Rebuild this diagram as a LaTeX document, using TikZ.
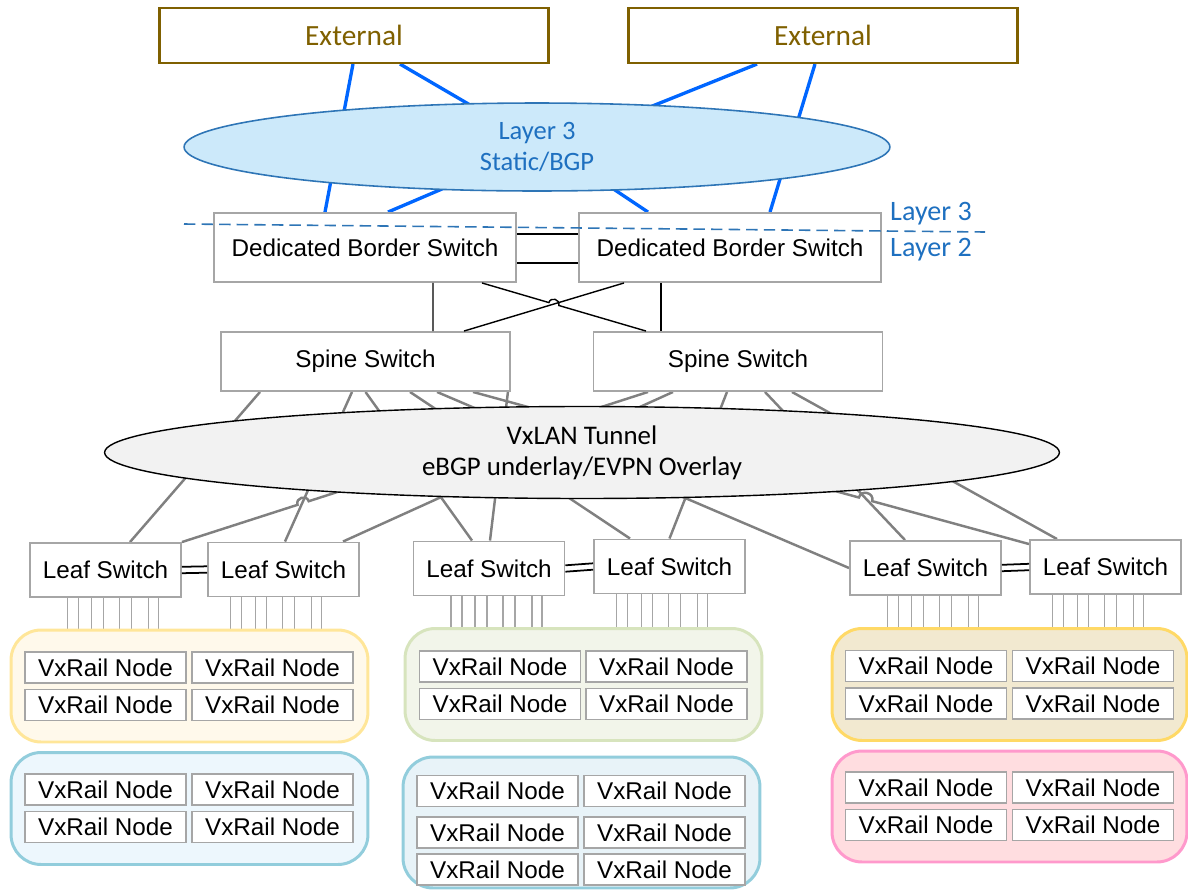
\documentclass[tikz,border=0pt]{standalone}
\usepackage{fontspec}
\setmainfont{Liberation Sans}
\newfontfamily\calibri{Carlito}
\usetikzlibrary{shapes.geometric,calc}
\pgfdeclarelayer{bg}
\pgfsetlayers{bg,main}
\definecolor{ExtClr}{RGB}{127,96,0}
\definecolor{LinkClr}{RGB}{0,102,255}
\definecolor{LayerLine}{RGB}{46,117,182}
\definecolor{LayerFill}{RGB}{204,233,250}
\definecolor{LayerTxt}{RGB}{30,112,192}
\definecolor{BoxClr}{RGB}{166,166,166}
\definecolor{WireClr}{RGB}{128,128,128}
\definecolor{TunnelFill}{RGB}{242,242,242}
\definecolor{GoneLine}{RGB}{255,230,153}
\definecolor{GoneFill}{RGB}{255,249,235}
\definecolor{GtwoLine}{RGB}{146,205,220}
\definecolor{GtwoFill}{RGB}{237,247,253}
\definecolor{GthreeLine}{RGB}{215,228,189}
\definecolor{GthreeFill}{RGB}{242,245,234}
\definecolor{GfourFill}{RGB}{232,243,248}
\definecolor{GfiveLine}{RGB}{255,217,102}
\definecolor{GfiveFill}{RGB}{242,233,208}
\definecolor{GsixLine}{RGB}{255,153,204}
\definecolor{GsixFill}{RGB}{255,221,224}

\begin{document}
\begin{tikzpicture}[x=0.02cm,y=-0.02cm,
  box/.style={draw=BoxClr,line width=1.1pt,fill=white,inner sep=0pt,font=\fontsize{13.8}{16}\selectfont},
  ext/.style={draw=ExtClr,line width=1.2pt,text=ExtClr,inner sep=0pt,minimum width=7.78cm,minimum height=1.1cm,font=\calibri\fontsize{16.7}{20}\selectfont},
  border/.style={box,minimum width=6.04cm,minimum height=1.38cm},
  spine/.style={box,minimum width=5.78cm,minimum height=1.18cm},
  leaf/.style={box,minimum width=3.02cm,minimum height=1.08cm},
  vxr/.style={box,minimum width=3.22cm,minimum height=0.62cm},
  grp/.style={rounded corners=0.6cm,line width=1.7pt,minimum width=7.14cm,minimum height=2.24cm},
  link/.style={draw=LinkClr,line width=1.9pt},
  conn/.style={draw=black,line width=0.8pt},
  pair/.style={draw=black,line width=1pt},
  wire/.style={draw=WireClr,line width=1.4pt},
  port/.style={draw=BoxClr,line width=0.6pt},
  cut/.style={draw=LayerLine,line width=0.9pt,dash pattern=on 6.5pt off 3.5pt},
  laytxt/.style={text=LayerTxt,font=\calibri\fontsize{16}{19}\selectfont}]
\useasboundingbox (0,0) rectangle (1188,890);

\node[ext] (ext1) at (354,35.5) {External};
\node[ext] (ext2) at (823,35.5) {External};

\node[ellipse,draw=LayerLine,fill=LayerFill,line width=0.9pt,inner sep=0pt,
  minimum width=14.12cm,minimum height=1.76cm,align=center,text=LayerTxt,
  font=\calibri\fontsize{15.1}{17.6}\selectfont] (l3) at (537,147) {Layer 3\\Static/BGP};

\node[border] (bs1) at (365,247.5) {Dedicated Border Switch};
\node[border] (bs2) at (730,247.5) {Dedicated Border Switch};

\node[spine] (sp1) at (365.5,361.5) {Spine Switch};
\node[spine] (sp2) at (738,361.5) {Spine Switch};

\node[ellipse,draw=black,fill=TunnelFill,line width=0.8pt,inner sep=0pt,
  minimum width=19.1cm,minimum height=1.84cm,align=center,
  font=\calibri\fontsize{15.3}{17.6}\selectfont] (vx) at (582,452.5) {VxLAN Tunnel\\eBGP underlay/EVPN Overlay};

\node[leaf] (lf1) at (105.5,570) {Leaf Switch};
\node[leaf] (lf2) at (283.5,569.5) {Leaf Switch};
\node[leaf] (lf3) at (489,568.5) {Leaf Switch};
\node[leaf] (lf4) at (669.5,566.5) {Leaf Switch};
\node[leaf] (lf5) at (925.5,568) {Leaf Switch};
\node[leaf] (lf6) at (1105.5,567) {Leaf Switch};

\node[grp,draw=GoneLine,fill=GoneFill] (g1) at (189.5,686) {};
\node[grp,draw=GtwoLine,fill=GtwoFill] (g2) at (189.5,808.5) {};
\node[grp,draw=GthreeLine,fill=GthreeFill] (g3) at (583.5,684.5) {};
\node[grp,draw=GtwoLine,fill=GfourFill,minimum height=2.62cm] (g4) at (581.5,822.5) {};
\node[grp,draw=GfiveLine,fill=GfiveFill,minimum width=7.1cm] (g5) at (1009.5,684.5) {};
\node[grp,draw=GsixLine,fill=GsixFill,minimum width=7.1cm,minimum height=2.22cm] (g6) at (1009.5,806.5) {};

\foreach \x/\c in {105.5/a,272.5/b} \foreach \y/\r in {667.5/1,705/2}
  \node[vxr] (g1\c\r) at (\x,\y) {VxRail Node};
\foreach \x/\c in {105.5/a,272.5/b} \foreach \y/\r in {789.5/1,827/2}
  \node[vxr] (g2\c\r) at (\x,\y) {VxRail Node};
\foreach \x/\c in {500/a,666.5/b} \foreach \y/\r in {666.5/1,704/2}
  \node[vxr] (g3\c\r) at (\x,\y) {VxRail Node};
\foreach \x/\c in {497.5/a,664.5/b} \foreach \y/\r in {791/1,832.5/2,869.5/3}
  \node[vxr] (g4\c\r) at (\x,\y) {VxRail Node};
\foreach \x/\c in {926/a,1093/b} \foreach \y/\r in {666/1,703.5/2}
  \node[vxr] (g5\c\r) at (\x,\y) {VxRail Node};
\foreach \x/\c in {926/a,1093/b} \foreach \y/\r in {787.5/1,825/2}
  \node[vxr] (g6\c\r) at (\x,\y) {VxRail Node};

\begin{pgfonlayer}{bg}
\draw[link] ($(ext1.south)+(-1,0)$) -- ($(bs1.north)+(-40,0)$);
\draw[link] ($(ext1.south)+(46,0)$) -- ($(l3.center)+(-60,-38)$);
\draw[link] ($(l3.center)+(-81,36)$) -- ($(bs1.north)+(23,0)$);
\draw[link] ($(ext2.south)+(-66,0)$) -- ($(l3.center)+(103,-36)$);
\draw[link] ($(l3.center)+(63,33)$) -- ($(bs2.north)+(-82,0)$);
\draw[link] ($(ext2.south)+(-8,0)$) -- ($(bs2.north)+(40,0)$);

\coordinate (s1a) at ($(sp1.south)+(-105.5,0)$);
\coordinate (s1f) at ($(sp1.south)+(107.5,0)$);
\coordinate (l6f) at ($(lf6.north west)+(0,5)$);
\coordinate (s2a) at ($(sp2.south)+(-90,0)$);
\draw[wire] (s1a) -- ($(lf1.north)+(24.5,0)$);
\draw[wire] ($(sp1.south)+(-13.5,0)$) -- ($(lf2.north)+(1.5,0)$);
\draw[wire] (sp1.south) -- ($(lf3.north)+(-17,0)$);
\draw[wire] ($(sp1.south)+(44.5,0)$) -- ($(lf4.north)+(-39.5,0)$);
\draw[wire] ($(sp1.south)+(71.5,0)$) -- (lf5.west);
\draw[wire] (s1f) -- ($(s1f)!0.694!(l6f)$) to[bend left=90,looseness=1.6] ($(s1f)!0.718!(l6f)$) -- (l6f);
\draw[wire] ($(sp1.south east)+(-3,0)$) -- ($(lf3.north)+(1,0)$);
\draw[wire] (s2a) -- ($(s2a)!0.728!(lf1.north east)$) to[bend right=90,looseness=1.6] ($(s2a)!0.752!(lf1.north east)$) -- (lf1.north east);
\draw[wire] ($(sp2.south)+(-65,0)$) -- ($(lf2.north)+(59.5,0)$);
\draw[wire] ($(sp2.south)+(-11,0)$) -- (lf4.north);
\draw[wire] ($(sp2.south)+(27,0)$) -- ($(lf5.north)+(-20.5,0)$);
\draw[wire] ($(sp2.south)+(54,0)$) -- ($(lf6.north)+(-48.5,0)$);

\foreach \lf/\g in {lf1/g1,lf3/g3,lf5/g5}
  \foreach \dx in {-38,-27,-14,-2,14,26,43,53}{
    \coordinate (p) at ($(\lf.south)+(\dx,0)$);
    \draw[port] (p) -- (p |- \g.north);
  }
\foreach \lf/\g in {lf2/g1,lf4/g3,lf6/g5}
  \foreach \dx in {-53,-42,-28,-17,-1,11,28,38}{
    \coordinate (p) at ($(\lf.south)+(\dx,0)$);
    \draw[port] (p) -- (p |- \g.north);
  }
\end{pgfonlayer}

\coordinate (b1x) at ($(bs1.south)+(117,0)$);
\coordinate (s2x) at ($(sp2.north)+(-92,0)$);
\draw[conn] ($(bs1.south)+(68,0)$) -- ($(sp1.north)+(67.5,0)$);
\draw[conn] (b1x) -- ($(b1x)!0.408!(s2x)$) to[bend left=90,looseness=1.6] ($(b1x)!0.468!(s2x)$) -- (s2x);
\draw[conn] ($(bs2.south)+(-106,0)$) -- ($(sp1.north)+(98.5,0)$);
\draw[conn] ($(bs2.south)+(-69,0)$) -- ($(sp2.north)+(-77,0)$);
\draw[conn] ($(bs1.east)+(0,-13.5)$) -- ($(bs2.west)+(0,-13.5)$);
\draw[conn] ($(bs1.east)+(0,15.5)$) -- ($(bs2.west)+(0,15.5)$);

\foreach \a/\b in {lf1/lf2,lf3/lf4,lf5/lf6}{
  \draw[pair] ($(\a.east)+(0,-3.2)$) -- ($(\b.west)+(0,-3.2)$);
  \draw[pair] ($(\a.east)+(0,3.2)$) -- ($(\b.west)+(0,3.2)$);
}

\coordinate (cutL) at (184,224);
\coordinate (cutR) at (985,232);
\draw[cut] (cutL) -- (cutR);
\node[laytxt] (lay3) at (931,214) {Layer 3};
\node[laytxt] (lay2) at (931,250) {Layer 2};
\end{tikzpicture}
\end{document}
